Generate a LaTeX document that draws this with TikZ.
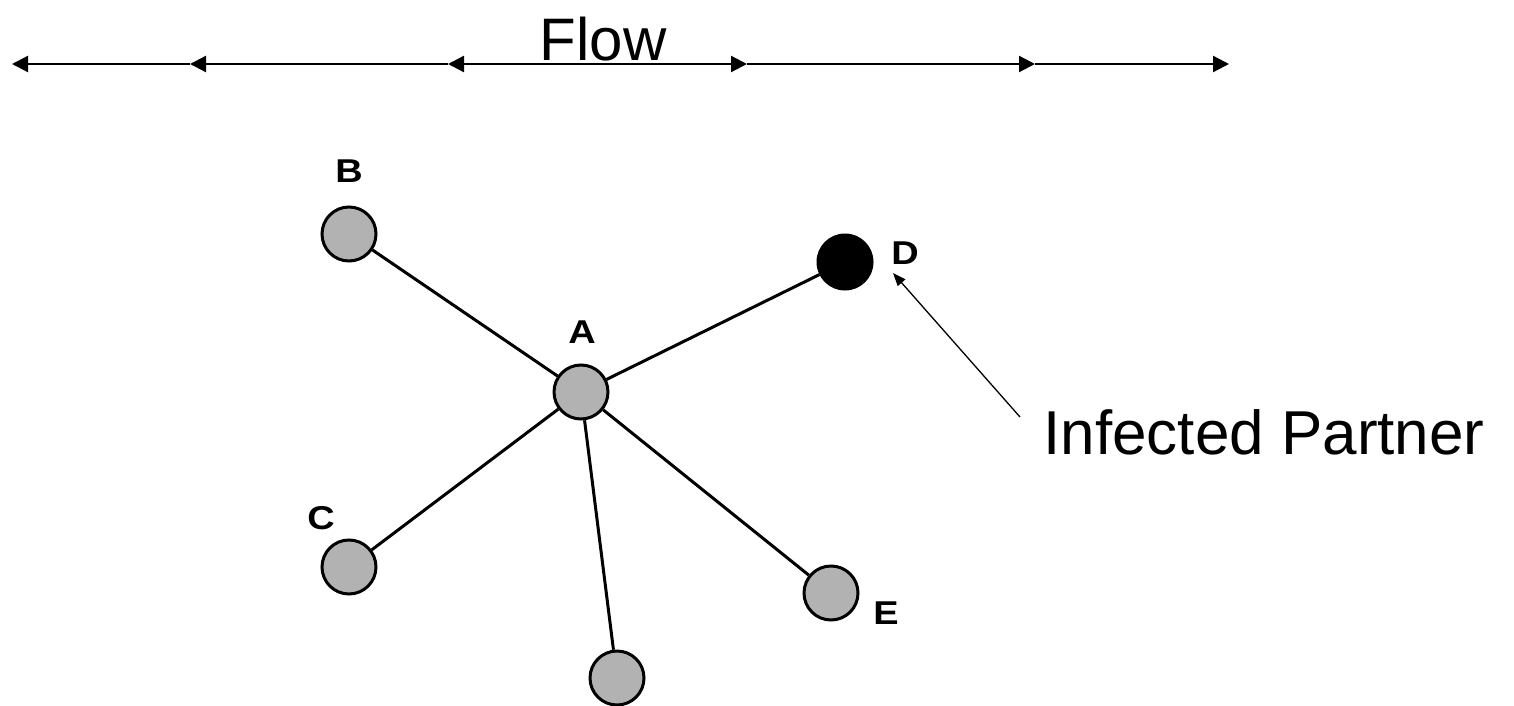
\documentclass[tikz,border=0pt]{standalone}
\usepackage{fontspec}
\setmainfont{Liberation Sans}
\usetikzlibrary{arrows.meta}
\begin{document}
\begin{tikzpicture}[x=1pt,y=-1pt,
  person/.style={circle,draw=black,line width=3pt,fill=black!30,minimum size=54pt,inner sep=0pt},
  infected/.style={circle,draw=black,line width=1pt,fill=black,minimum size=56pt,inner sep=0pt},
  lbl/.style={font=\fontsize{33}{33}\selectfont\bfseries,inner sep=0pt,anchor=center,xscale=1.15},
  bigtext/.style={font=\fontsize{60}{62}\selectfont,inner sep=0pt,anchor=center},
  tie/.style={line width=3pt},
  flowline/.style={line width=2.3pt},
  pointer/.style={line width=1.3pt,-{Triangle[length=13pt,width=10pt]}}]
\useasboundingbox (0,0) rectangle (1514,706);
% flow line
\coordinate (f0) at (12,64);
\coordinate (f1) at (190,64);
\coordinate (f2) at (448,64);
\coordinate (f3) at (747,64);
\coordinate (f4) at (1035,64);
\coordinate (f5) at (1229,64);
\draw[flowline,{Triangle[length=16pt,width=16pt]}-] (f0) -- (f1);
\draw[flowline,{Triangle[length=16pt,width=16pt]}-] (f1) -- (f2);
\draw[flowline,{Triangle[length=16pt,width=16pt]}-{Triangle[length=16pt,width=16pt]}] (f2) -- (f3);
\draw[flowline,-{Triangle[length=16pt,width=16pt]}] (f3) -- (f4);
\draw[flowline,-{Triangle[length=16pt,width=16pt]}] (f4) -- (f5);
\node[bigtext] (flow) at (603,39) {Flow};
% nodes
\node[person] (A) at (581,392) {};
\node[person] (B) at (349,234) {};
\node[person] (C) at (349,567) {};
\node[person] (E) at (831,593) {};
\node[person] (F) at (617,678) {};
\node[infected] (D) at (845,262) {};
\node[lbl] (lA) at (582,332) {A};
\node[lbl] (lB) at (349,171) {B};
\node[lbl] (lC) at (321,518) {C};
\node[lbl] (lD) at (905,253) {D};
\node[lbl] (lE) at (886,613) {E};
% edges
\draw[tie] (A) -- (B);
\draw[tie] (A) -- (C);
\draw[tie] (A) -- (D);
\draw[tie] (A) -- (E);
\draw[tie] (A) -- (F);
% infected partner
\node[bigtext,font=\fontsize{62}{64}\selectfont] (ip) at (1264,432) {Infected Partner};
\coordinate (ptail) at (1020,417);
\coordinate (ptip) at (893,273);
\draw[pointer] (ptail) -- (ptip);
\end{tikzpicture}
\end{document}
